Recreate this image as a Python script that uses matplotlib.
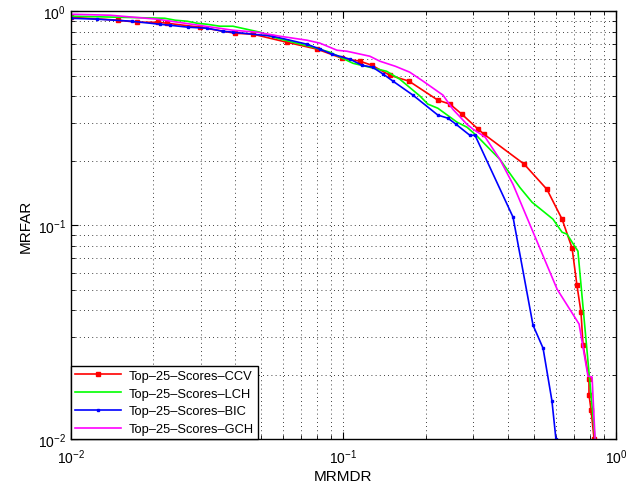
import matplotlib
matplotlib.use('Agg')
import matplotlib.pyplot as plt
from matplotlib.ticker import LogLocator, NullFormatter

plt.rcParams['font.family'] = ['Liberation Sans', 'DejaVu Sans']
plt.rcParams['mathtext.fontset'] = 'custom'
plt.rcParams['mathtext.rm'] = 'Liberation Sans'

# Top-25-Scores-CCV
ccv_x = [0.01, 0.0149, 0.0175, 0.0209, 0.0225, 0.0297, 0.040, 0.0466, 0.062, 0.080,
         0.0987, 0.115, 0.127, 0.148, 0.174, 0.222, 0.246, 0.272, 0.312, 0.328,
         0.460, 0.558, 0.634, 0.690, 0.719, 0.744, 0.757, 0.796, 0.796, 0.810, 0.831]
ccv_y = [0.937, 0.908, 0.888, 0.888, 0.879, 0.842, 0.789, 0.781, 0.716, 0.665,
         0.603, 0.584, 0.559, 0.502, 0.471, 0.384, 0.368, 0.330, 0.281, 0.266,
         0.193, 0.147, 0.1067, 0.0781, 0.0524, 0.0392, 0.0275, 0.0191, 0.0161, 0.0137, 0.010]

# Top-25-Scores-LCH
lch_x = [0.01, 0.0221, 0.0241, 0.0267, 0.029, 0.0316, 0.0352, 0.0393, 0.0494, 0.0551,
         0.0653, 0.0773, 0.0892, 0.1084, 0.144, 0.161, 0.191, 0.204, 0.222, 0.261,
         0.284, 0.309, 0.345, 0.375, 0.444, 0.492, 0.587, 0.634, 0.661, 0.690, 0.725, 0.838]
lch_y = [0.948, 0.927, 0.908, 0.898, 0.879, 0.869, 0.851, 0.851, 0.798, 0.756,
         0.716, 0.679, 0.643, 0.571, 0.524, 0.481, 0.401, 0.368, 0.352, 0.303,
         0.287, 0.261, 0.226, 0.203, 0.150, 0.128, 0.1067, 0.0927, 0.0908, 0.0833, 0.0756, 0.010]

# Top-25-Scores-BIC
bic_x = [0.01, 0.0125, 0.0167, 0.0212, 0.0231, 0.0269, 0.0316, 0.0361, 0.0393, 0.0551,
         0.0735, 0.082, 0.0908, 0.1056, 0.1169, 0.128, 0.140, 0.152, 0.180, 0.222,
         0.242, 0.259, 0.291, 0.304, 0.419, 0.496, 0.540, 0.582, 0.602]
bic_y = [0.927, 0.918, 0.898, 0.869, 0.860, 0.842, 0.833, 0.806, 0.798, 0.764,
         0.701, 0.665, 0.630, 0.597, 0.559, 0.547, 0.508, 0.471, 0.405, 0.327,
         0.316, 0.296, 0.263, 0.263, 0.109, 0.0341, 0.0266, 0.0151, 0.010]

# Top-25-Scores-GCH
gch_x = [0.01, 0.0139, 0.0207, 0.0393, 0.0482, 0.0585, 0.0693, 0.0735, 0.082, 0.0947,
         0.103, 0.125, 0.136, 0.155, 0.175, 0.196, 0.232, 0.252, 0.284, 0.299,
         0.331, 0.375, 0.419, 0.608, 0.732, 0.789, 0.817, 0.838]
gch_y = [0.968, 0.958, 0.918, 0.815, 0.798, 0.764, 0.740, 0.732, 0.709, 0.657,
         0.650, 0.616, 0.584, 0.553, 0.519, 0.471, 0.405, 0.348, 0.296, 0.281,
         0.258, 0.203, 0.155, 0.0502, 0.0345, 0.0197, 0.0195, 0.010]

fig = plt.figure(figsize=(6.39, 4.89), dpi=100)
ax = fig.add_axes([0.111, 0.100, 0.853, 0.875])

ax.loglog(ccv_x, ccv_y, '-s', color='#ff0000', lw=1.2, ms=3.5, label='Top–25–Scores–CCV')
ax.loglog(lch_x, lch_y, '-.', color='#00ff00', lw=1.2, ms=3, ls='-', label='Top–25–Scores–LCH')
ax.loglog(bic_x, bic_y, '-s', color='#0000ff', lw=1.2, ms=2, label='Top–25–Scores–BIC')
ax.loglog(gch_x, gch_y, '-.', color='#ff00ff', lw=1.2, ms=2, ls='-', label='Top–25–Scores–GCH')

ax.set_xlim(0.01, 1)
ax.set_ylim(0.01, 1)
ax.xaxis.set_minor_locator(LogLocator(base=10, subs=range(2, 10)))
ax.yaxis.set_minor_locator(LogLocator(base=10, subs=range(2, 10)))
ax.xaxis.set_minor_formatter(NullFormatter())
ax.yaxis.set_minor_formatter(NullFormatter())
ax.grid(True, which='both', ls=(0, (1, 4)), color='black', lw=0.6)
ax.tick_params(which='both', direction='in', top=True, right=True, labelsize=10)
ax.tick_params(which='major', length=5)
ax.tick_params(which='minor', length=3)
ax.tick_params(axis='x', which='major', pad=6)
for s in ax.spines.values():
    s.set_linewidth(1.0)

ax.set_xlabel('MRMDR', fontsize=11, labelpad=2)
ax.set_ylabel('MRFAR', fontsize=11, labelpad=4)

leg = ax.legend(loc='lower left', fontsize=9.3, fancybox=False, framealpha=1,
                edgecolor='black', borderaxespad=0, handlelength=3.6,
                handletextpad=0.6, labelspacing=0.45, borderpad=0.3)
leg.get_frame().set_linewidth(1.0)

fig.savefig('out.png', dpi=100)
